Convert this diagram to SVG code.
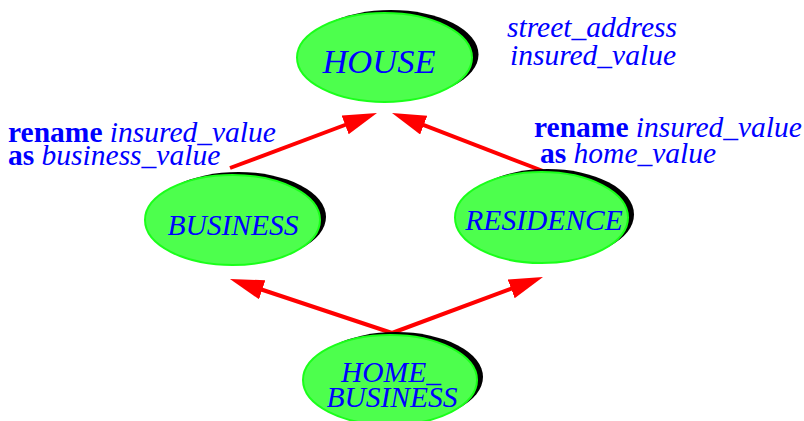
<svg xmlns="http://www.w3.org/2000/svg" width="804" height="421" viewBox="0 0 804 421">
<style>
.sh{fill:#000}
.el{fill:#4dff4d;stroke:#1aff1a;stroke-width:2}
.nt{font-family:"Liberation Serif","Times New Roman",serif;font-style:italic;fill:#0000ff;text-anchor:middle}
.lb{font-family:"Liberation Serif","Times New Roman",serif;font-size:29.5px;fill:#0000ff}
.kw{font-weight:bold;font-style:normal}
.it{font-style:italic}
.ar{stroke:#ff0000;stroke-width:4;fill:none;marker-end:url(#ah)}
</style>
<defs>
<marker id="ah" markerUnits="userSpaceOnUse" markerWidth="36" markerHeight="22" refX="4" refY="10" orient="auto" viewBox="0 0 36 22">
<path d="M0,0 L34,10 L0,20 z" fill="#ff0000"/>
</marker>
</defs>
<rect width="804" height="421" fill="#fff"/>
<g id="connectors">
<line class="ar" x1="230" y1="168" x2="348.9" y2="123.5"/>
<line class="ar" x1="543" y1="171" x2="420" y2="123.7"/>
<line class="ar" x1="392" y1="333" x2="258.4" y2="288.5"/>
<line class="ar" x1="392" y1="333" x2="514.9" y2="287.4"/>
</g>
<g id="house">
<ellipse class="sh" cx="391" cy="54.5" rx="87.5" ry="44.5"/>
<ellipse class="el" cx="384.5" cy="57.5" rx="87.5" ry="44.5"/>
<text class="nt" x="379" y="73" font-size="34.5">HOUSE</text>
</g>
<g id="house-features">
<text class="lb it" x="592" y="37" text-anchor="middle">street_address</text>
<text class="lb it" x="593" y="65" text-anchor="middle">insured_value</text>
</g>
<g id="business">
<ellipse class="sh" cx="238.5" cy="217" rx="87.5" ry="45"/>
<ellipse class="el" cx="232.5" cy="220" rx="87.5" ry="45"/>
<text class="nt" x="233" y="235" font-size="29.5">BUSINESS</text>
</g>
<g id="business-rename">
<text class="lb" x="8" y="142"><tspan class="kw">rename</tspan> <tspan class="it">insured_value</tspan></text>
<text class="lb" x="8" y="165"><tspan class="kw">as</tspan> <tspan class="it">business_value</tspan></text>
</g>
<g id="residence">
<ellipse class="sh" cx="547.5" cy="214.5" rx="86.5" ry="45.5"/>
<ellipse class="el" cx="541.5" cy="217.5" rx="86.5" ry="45.5"/>
<text class="nt" x="544" y="230" font-size="29.5">RESIDENCE</text>
</g>
<g id="residence-rename">
<text class="lb" x="534" y="137"><tspan class="kw">rename</tspan> <tspan class="it">insured_value</tspan></text>
<text class="lb" x="540" y="163"><tspan class="kw">as</tspan> <tspan class="it">home_value</tspan></text>
</g>
<g id="home-business">
<ellipse class="sh" cx="396" cy="377" rx="87" ry="45"/>
<ellipse class="el" cx="390" cy="380" rx="87" ry="45"/>
<text class="nt" x="391" y="382" font-size="29.5">HOME_</text>
<text class="nt" x="392" y="407" font-size="29.5">BUSINESS</text>
</g>
</svg>
